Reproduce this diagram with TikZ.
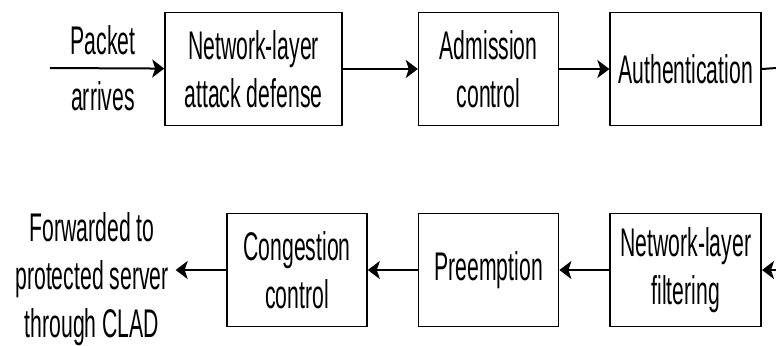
\documentclass[tikz,border=0pt]{standalone}
\usepackage{fontspec}
\setmainfont{Liberation Sans}[FakeStretch=0.53]
\usepackage{tikz}
\usetikzlibrary{positioning,arrows.meta}

\begin{document}
\begin{tikzpicture}[x=0.5pt,y=-0.5pt,
    font=\fontsize{20}{24}\selectfont,
    box/.style={draw,line width=0.8pt,inner sep=1pt,align=center,minimum height=56.5pt},
    flow/.style={-{Stealth[length=6pt,width=9pt,inset=1.5pt]},line width=1pt}]
      \useasboundingbox (0,0) rectangle (776,345);
      \node[align=center] (pin) at (103,68) {Packet\\[4pt]arrives};
      \coordinate (in) at (50,68);
      \node[box,minimum width=88.5pt] (nad) at (253.5,69) {Network-layer\\attack defense};
      \node[box,minimum width=70pt,right=37.5pt of nad] (adm) {Admission\\control};
      \node[box,minimum width=75.5pt,right=25pt of adm] (auth) {Authentication};
      \coordinate (out) at (776,68);

      \node[box,minimum width=70pt] (cong) at (297,270) {Congestion\\control};
      \node[box,minimum width=70pt,right=25pt of cong] (pre) {Preemption};
      \node[box,minimum width=75.5pt,right=25pt of pre] (nlf) {Network-layer\\filtering};
      \coordinate (back) at (776,270);
      \node[align=center] (fwd) at (92,279) {Forwarded to\\protected server\\through CLAD};

      %top row
      \draw[flow] (in) -- (nad);
      \draw[flow] (nad) -- (adm);
      \draw[flow] (adm) -- (auth.west |- adm);
      \draw[line width=1pt] (auth.east |- adm) -- (out);
      %bottom row
      \draw[flow] (back) -- (nlf);
      \draw[flow] (nlf) -- (pre);
      \draw[flow] (pre) -- (cong);
      \draw[flow] (cong.west) -- (cong.west -| fwd.east);
    \end{tikzpicture}
\end{document}
